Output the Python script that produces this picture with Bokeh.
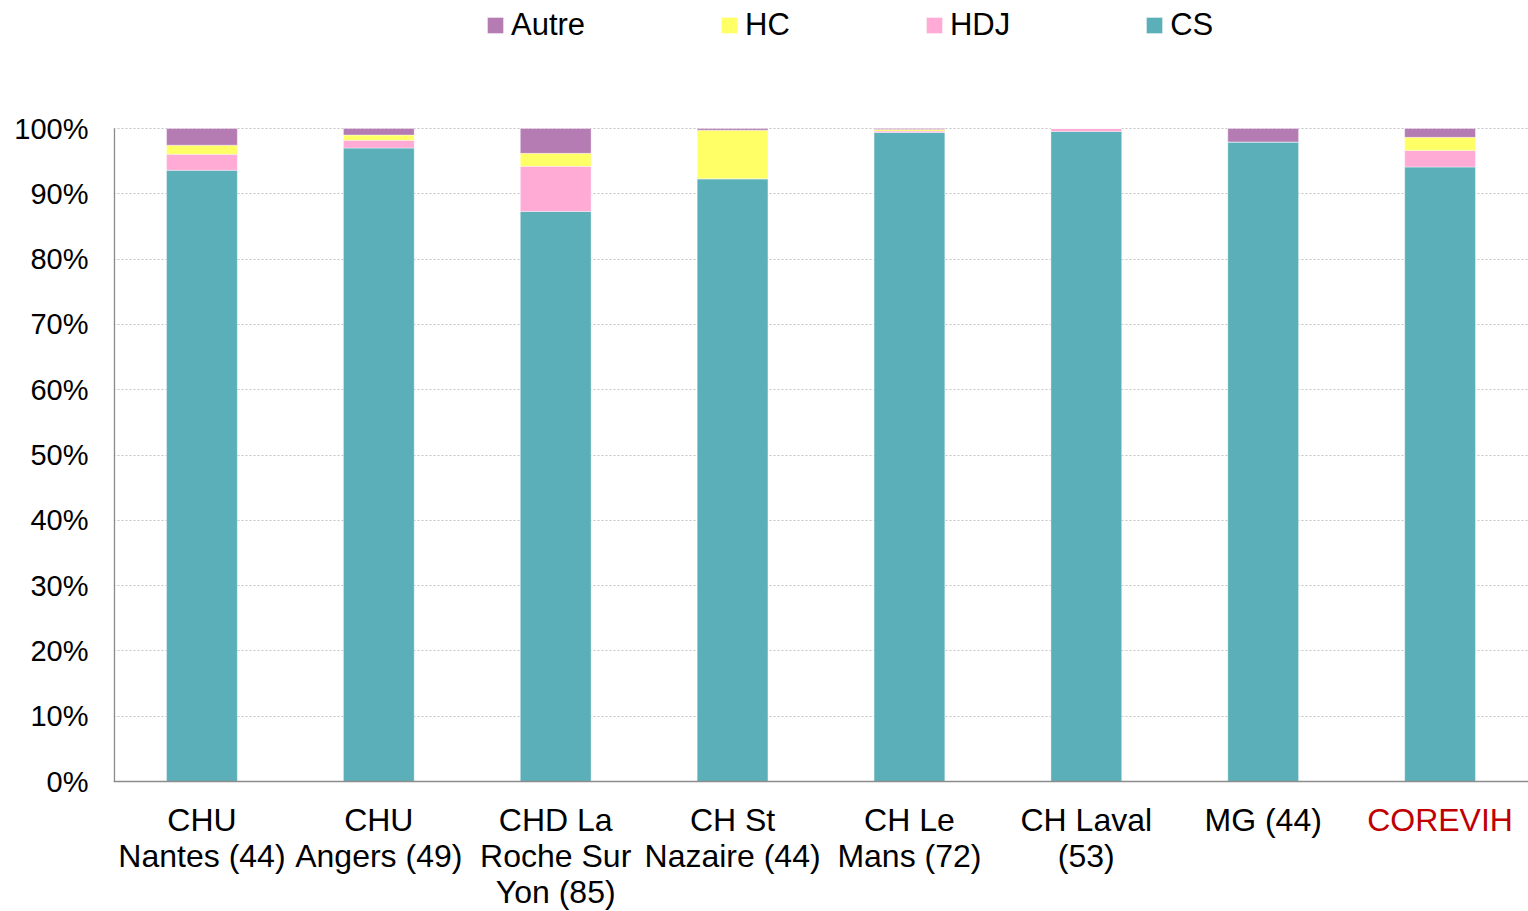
from bokeh.plotting import figure
from bokeh.models import (FactorRange, Range1d, FixedTicker, NumeralTickFormatter,
                          Legend, LegendItem)
from bokeh.embed import file_html
from bokeh.resources import INLINE

categories = ["CHU\nNantes (44)", "CHU\nAngers (49)", "CHD La\nRoche Sur\nYon (85)",
              "CH St\nNazaire (44)", "CH Le\nMans (72)", "CH Laval\n(53)", "MG (44)", "COREVIH"]
CS = [93.6, 97.0, 87.3, 92.3, 99.4, 99.55, 97.95, 94.1]
HDJ = [2.45, 1.2, 6.9, 0.0, 0.2, 0.45, 0.0, 2.55]
HC = [1.4, 0.8, 2.0, 7.45, 0.25, 0.0, 0.0, 2.0]
Autre = [2.55, 1.0, 3.8, 0.25, 0.15, 0.0, 2.05, 1.35]
series = ["CS", "HDJ", "HC", "Autre"]
colors = {"CS": "#5BAFB8", "HDJ": "#FFABD6", "HC": "#FFFF66", "Autre": "#B57BB3"}
label_colors = ["#000000"] * 7 + ["#C00000"]
yticks = [i / 10 for i in range(11)]

data = {"x": categories,
        "CS": [v / 100 for v in CS],
        "HDJ": [v / 100 for v in HDJ],
        "HC": [v / 100 for v in HC],
        "Autre": [v / 100 for v in Autre]}

FONT = "Liberation Sans"
W, H = 1528, 911
TOP, BOTTOM = 128, 781          # pixel rows of 100% and 0%
scale = BOTTOM - TOP
y_lo = -(H - BOTTOM) / scale
y_hi = 1 + TOP / scale

p = figure(x_range=FactorRange(*categories, range_padding=0),
           y_range=Range1d(y_lo, y_hi), width=W, height=H,
           output_backend="svg", toolbar_location=None,
           min_border_left=113, min_border_right=0, min_border_top=0,
           min_border_bottom=0)
p.outline_line_color = None
p.xaxis.visible = False

renderers = p.vbar_stack(series, x="x", width=0.4, source=data,
                         color=[colors[s] for s in series],
                         line_color="white", line_width=0.6, line_alpha=0.6)

# y axis
p.yaxis.ticker = FixedTicker(ticks=yticks)
p.yaxis.formatter = NumeralTickFormatter(format="0%")
p.yaxis.major_label_text_font = FONT
p.yaxis.major_label_text_font_size = "29px"
p.yaxis.major_label_text_color = "#000000"
p.yaxis.major_tick_line_color = None
p.yaxis.minor_tick_line_color = None
p.yaxis.major_label_standoff = 19
p.yaxis.axis_line_color = None

p.xgrid.grid_line_color = None
p.ygrid.grid_line_color = "#c4c4c4"
p.ygrid.grid_line_dash = "2 2"
p.ygrid.grid_line_width = 1

# axis lines (0%..100% vertical, full-width horizontal at 0)
n = len(categories)
p.segment(x0=[0.005, 0.0], y0=[0.0, 0.0], x1=[0.005, n], y1=[1.0, 0.0],
          line_color="#8c8c8c", line_width=1.5)

# category labels
p.text(x=categories, y=[-0.032] * n, text=categories, text_color=label_colors,
       text_align="center", text_baseline="top", text_font={"value": FONT},
       text_font_size="32px", text_line_height=1.0)

# legend
order = ["Autre", "HC", "HDJ", "CS"]
idx = {s: i for i, s in enumerate(series)}
legend = Legend(items=[LegendItem(label=s, renderers=[renderers[idx[s]]]) for s in order],
                orientation="horizontal", location=(372, H - 43),
                label_text_font=FONT, label_text_font_size="31px",
                label_text_color="#000000", glyph_width=20, glyph_height=20,
                label_standoff=6, spacing=134, padding=0, margin=0,
                border_line_color=None, background_fill_alpha=0)
p.add_layout(legend, "center")

open("out.html", "w").write(file_html(p, INLINE))
